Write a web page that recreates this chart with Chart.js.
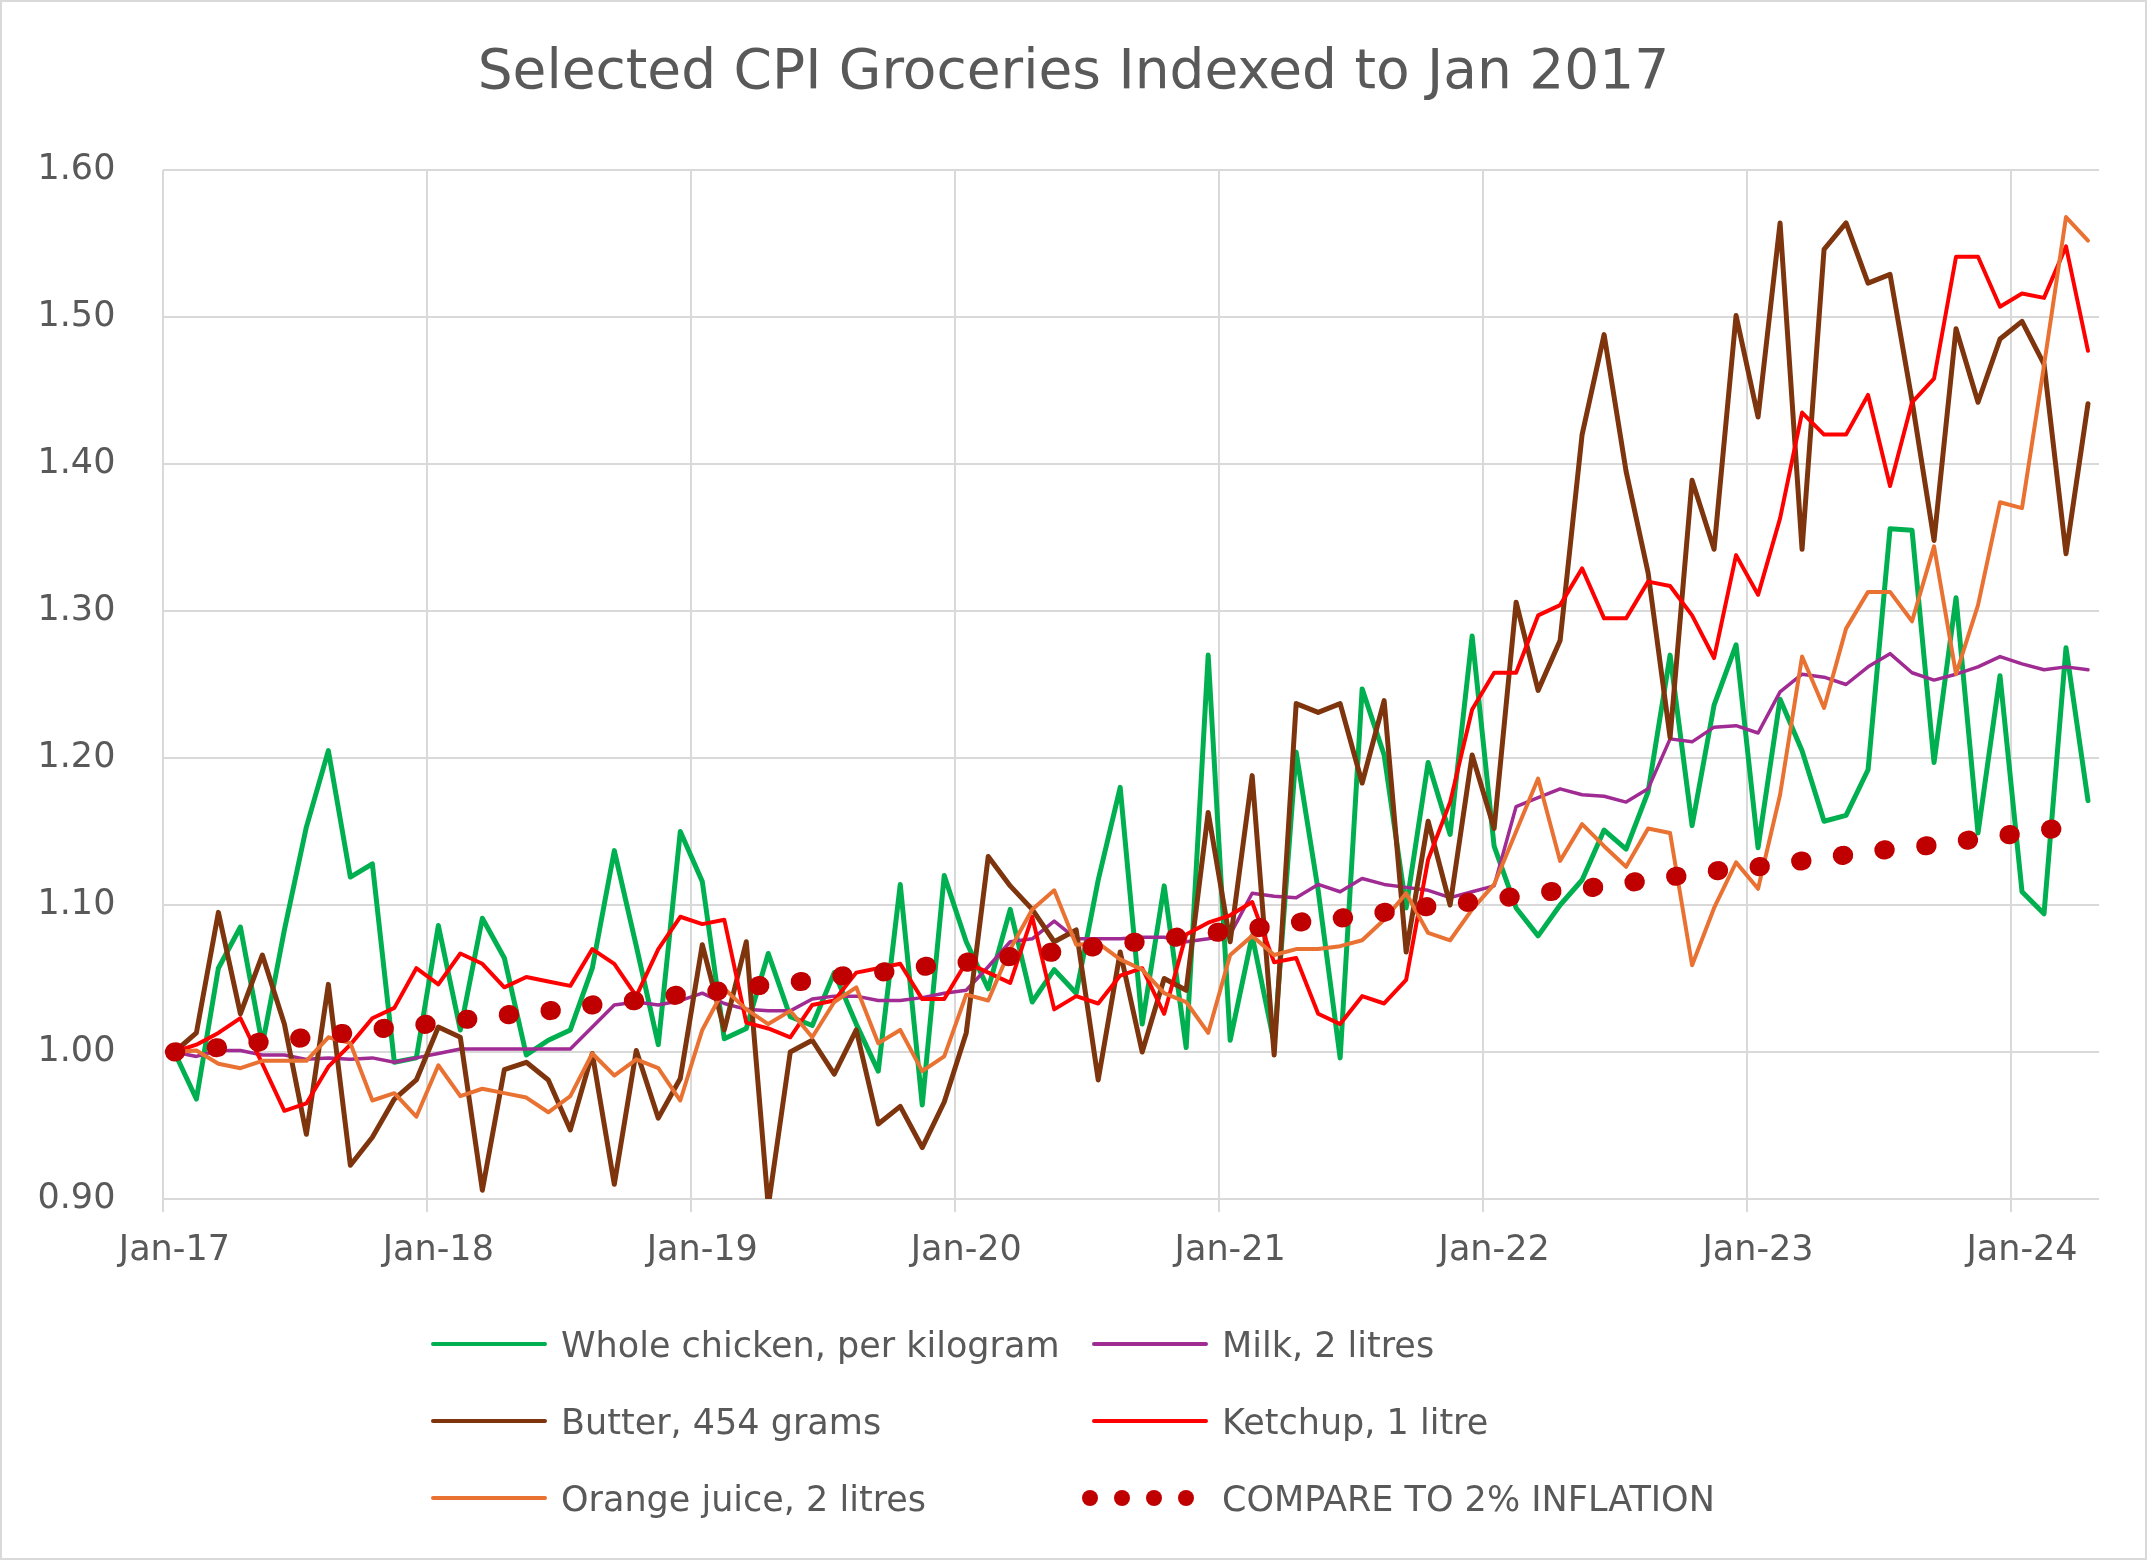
<!DOCTYPE html>
<html><head><meta charset="utf-8">
<script src="https://cdn.jsdelivr.net/npm/chart.js@4.4.1/dist/chart.umd.min.js"></script>
<style>
html,body{margin:0;padding:0;background:#fff;}
#wrap{position:relative;width:2147px;height:1560px;overflow:hidden;background:#fff;}
#c{position:absolute;left:0;top:0;}
#frame{position:absolute;left:0;top:0;width:2147px;height:1560px;box-sizing:border-box;border:2px solid #D9D9D9;pointer-events:none;}
.lg{position:absolute;font-family:'DejaVu Sans';font-size:35px;line-height:42px;color:#595959;white-space:nowrap;}
.ln{position:absolute;border-radius:2px;}
.dot{position:absolute;border-radius:50%;}
</style></head><body>
<div id="wrap"><canvas id="c" width="2147" height="1560"></canvas><div id="legend"></div><div id="frame"></div></div>
<script>
const months = [
 'Jan-17','Feb-17','Mar-17','Apr-17','May-17','Jun-17','Jul-17','Aug-17','Sep-17','Oct-17','Nov-17','Dec-17',
 'Jan-18','Feb-18','Mar-18','Apr-18','May-18','Jun-18','Jul-18','Aug-18','Sep-18','Oct-18','Nov-18','Dec-18',
 'Jan-19','Feb-19','Mar-19','Apr-19','May-19','Jun-19','Jul-19','Aug-19','Sep-19','Oct-19','Nov-19','Dec-19',
 'Jan-20','Feb-20','Mar-20','Apr-20','May-20','Jun-20','Jul-20','Aug-20','Sep-20','Oct-20','Nov-20','Dec-20',
 'Jan-21','Feb-21','Mar-21','Apr-21','May-21','Jun-21','Jul-21','Aug-21','Sep-21','Oct-21','Nov-21','Dec-21',
 'Jan-22','Feb-22','Mar-22','Apr-22','May-22','Jun-22','Jul-22','Aug-22','Sep-22','Oct-22','Nov-22','Dec-22',
 'Jan-23','Feb-23','Mar-23','Apr-23','May-23','Jun-23','Jul-23','Aug-23','Sep-23','Oct-23','Nov-23','Dec-23',
 'Jan-24','Feb-24','Mar-24','Apr-24'];
const tickLabels = ['Jan-17','Jan-18','Jan-19','Jan-20','Jan-21','Jan-22','Jan-23','Jan-24'];
const yTicks = [0.90,1.00,1.10,1.20,1.30,1.40,1.50,1.60];

const chicken = [
 1.000,0.968,1.057,1.085,1.005,1.083,1.153,1.205,1.119,1.128,0.993,0.996,
 1.086,1.015,1.091,1.064,0.998,1.008,1.015,1.057,1.137,1.072,1.005,1.150,
 1.116,1.009,1.016,1.067,1.024,1.018,1.054,1.019,0.987,1.114,0.964,1.120,
 1.075,1.043,1.097,1.034,1.056,1.040,1.117,1.180,1.019,1.113,1.003,1.270,
 1.008,1.079,1.006,1.204,1.110,0.996,1.247,1.202,1.098,1.197,1.148,1.283,
 1.140,1.098,1.079,1.100,1.117,1.151,1.138,1.177,1.270,1.154,1.236,1.277,
 1.139,1.240,1.205,1.157,1.161,1.192,1.356,1.355,1.197,1.309,1.149,1.256,
 1.109,1.094,1.275,1.171];
const milk = [
 1.000,0.997,1.001,1.001,0.998,0.998,0.995,0.996,0.995,0.996,0.993,0.996,
 0.999,1.002,1.002,1.002,1.002,1.002,1.002,1.017,1.032,1.034,1.032,1.035,
 1.040,1.033,1.029,1.028,1.028,1.036,1.038,1.038,1.035,1.035,1.037,1.040,
 1.042,1.058,1.075,1.077,1.089,1.077,1.077,1.077,1.078,1.078,1.075,1.077,
 1.080,1.108,1.106,1.105,1.114,1.109,1.118,1.114,1.112,1.110,1.105,1.109,
 1.113,1.167,1.173,1.179,1.175,1.174,1.170,1.179,1.213,1.211,1.221,1.222,
 1.217,1.245,1.257,1.255,1.250,1.262,1.271,1.258,1.253,1.257,1.262,1.269,
 1.264,1.260,1.262,1.260];
const butter = [
 1.000,1.013,1.095,1.026,1.066,1.019,0.944,1.046,0.923,0.942,0.968,0.981,
 1.017,1.010,0.906,0.988,0.993,0.981,0.947,0.999,0.910,1.001,0.955,0.982,
 1.073,1.015,1.075,0.895,1.000,1.008,0.985,1.015,0.951,0.963,0.935,0.966,
 1.013,1.133,1.113,1.097,1.075,1.083,0.981,1.068,1.000,1.050,1.042,1.163,
 1.075,1.188,0.998,1.237,1.231,1.237,1.183,1.239,1.068,1.157,1.100,1.202,
 1.152,1.306,1.246,1.280,1.420,1.488,1.395,1.326,1.214,1.389,1.342,1.501,
 1.432,1.564,1.342,1.546,1.564,1.523,1.529,1.443,1.348,1.492,1.442,1.485,
 1.497,1.468,1.339,1.441];
const ketchup = [
 1.000,1.005,1.013,1.023,0.992,0.960,0.965,0.990,1.005,1.023,1.030,1.057,
 1.046,1.067,1.060,1.044,1.051,1.048,1.045,1.070,1.060,1.038,1.070,1.092,
 1.087,1.090,1.020,1.016,1.010,1.032,1.035,1.054,1.057,1.060,1.036,1.036,
 1.061,1.054,1.047,1.092,1.029,1.038,1.033,1.052,1.057,1.026,1.080,1.088,
 1.093,1.102,1.061,1.064,1.026,1.019,1.038,1.033,1.049,1.131,1.170,1.233,
 1.258,1.258,1.297,1.304,1.329,1.295,1.295,1.320,1.317,1.297,1.268,1.338,
 1.311,1.363,1.435,1.420,1.420,1.447,1.385,1.442,1.458,1.541,1.541,1.507,
 1.516,1.513,1.548,1.477];
const orangeJuice = [
 1.000,1.001,0.992,0.989,0.994,0.994,0.994,1.010,1.006,0.967,0.972,0.956,
 0.991,0.970,0.975,0.972,0.969,0.959,0.970,0.999,0.984,0.995,0.989,0.967,
 1.015,1.043,1.029,1.019,1.028,1.010,1.034,1.044,1.006,1.015,0.987,0.997,
 1.039,1.035,1.070,1.097,1.110,1.073,1.074,1.063,1.056,1.040,1.034,1.013,
 1.066,1.079,1.066,1.070,1.070,1.072,1.076,1.090,1.108,1.081,1.076,1.097,
 1.114,1.150,1.186,1.130,1.155,1.140,1.126,1.152,1.149,1.059,1.098,1.129,
 1.111,1.175,1.269,1.234,1.288,1.313,1.313,1.293,1.344,1.257,1.304,1.374,
 1.370,1.467,1.568,1.552];
const inflation2pct = [
 1.000,1.002,1.003,1.005,1.007,1.008,1.010,1.012,1.013,1.015,1.017,1.018,
 1.020,1.022,1.023,1.025,1.027,1.028,1.030,1.032,1.034,1.035,1.037,1.039,
 1.040,1.042,1.044,1.046,1.047,1.049,1.051,1.053,1.054,1.056,1.058,1.060,
 1.061,1.063,1.065,1.067,1.068,1.070,1.072,1.074,1.075,1.077,1.079,1.081,
 1.082,1.084,1.086,1.088,1.090,1.091,1.093,1.095,1.097,1.099,1.101,1.102,
 1.104,1.106,1.108,1.110,1.111,1.113,1.115,1.117,1.119,1.121,1.123,1.125,
 1.126,1.128,1.130,1.132,1.134,1.136,1.138,1.139,1.141,1.143,1.145,1.147,
 1.149,1.151,1.153,1.154];

const seriesNames = ['Whole chicken, per kilogram','Milk, 2 litres','Butter, 454 grams','Ketchup, 1 litre','Orange juice, 2 litres','COMPARE TO 2% INFLATION'];
const seriesData = [chicken, milk, butter, ketchup, orangeJuice, inflation2pct];
const seriesColors = ['#00B050','#A02B93','#7E350E','#FF0000','#E97132','#C00000'];
const seriesWidths = [5, 3.5, 5, 4, 4, 19];

const FONT = 'DejaVu Sans';
const TEXT = '#595959';
const GRID = '#D9D9D9';

const datasets = seriesData.map((d, i) => {
  const ds = {
    label: seriesNames[i], data: d,
    borderColor: seriesColors[i], backgroundColor: seriesColors[i],
    borderWidth: seriesWidths[i], pointRadius: 0, pointHoverRadius: 0,
    tension: 0, fill: false, order: 5 - i,
    borderJoinStyle: 'round', borderCapStyle: 'round'
  };
  if (i === 5) { ds.borderDash = [1.5, 40.5]; ds.borderCapStyle = 'round'; }
  return ds;
});

new Chart(document.getElementById('c'), {
  type: 'line',
  data: { labels: months, datasets },
  options: {
    responsive: false, animation: false, devicePixelRatio: 1,
    layout: { padding: { left: 0, right: 0, top: 0, bottom: 0 } },
    plugins: {
      legend: { display: false },
      tooltip: { enabled: false },
      title: {
        display: true, text: 'Selected CPI Groceries Indexed to Jan 2017', color: TEXT,
        font: { family: FONT, size: 55, weight: 'normal', lineHeight: 1.2 },
        padding: { top: 41, bottom: 63 }
      }
    },
    scales: {
      x: {
        type: 'category', offset: true,
        afterFit: s => { s.height = 361; },
        grid: {
          offset: true, lineWidth: 2, tickLength: 13, drawTicks: true,
          color: ctx => (ctx.index % 12 === 0 && ctx.index < months.length) ? GRID : 'rgba(0,0,0,0)'
        },
        border: { display: false },
        ticks: {
          autoSkip: false, maxRotation: 0, minRotation: 0, padding: 18, color: TEXT,
          font: { family: FONT, size: 35 },
          callback: function (v, i) { const l = months[i]; return tickLabels.includes(l) ? l : ''; }
        }
      },
      y: {
        position: 'left', min: yTicks[0], max: yTicks[yTicks.length - 1],
        afterFit: s => { s.width = 163.4; },
        afterBuildTicks: s => { s.ticks = yTicks.map(v => ({ value: v })); },
        grid: { color: GRID, lineWidth: 2, drawTicks: false },
        border: { display: false },
        ticks: { padding: 48, color: TEXT, font: { family: FONT, size: 35 }, callback: v => Number(v).toFixed(2) }
      },
      yr: {
        position: 'right', display: true, min: 0, max: 1,
        afterFit: s => { s.width = 48; },
        grid: { display: false, drawTicks: false }, border: { display: false },
        ticks: { display: false }
      }
    }
  }
});

// HTML legend (2 columns x 3 rows)
const legendSlots = [[431,1344],[1092,1344],[431,1421],[1092,1421],[431,1498],[1092,1498]];
const lg = document.getElementById('legend');
seriesNames.forEach((name, i) => {
  const [x, y] = legendSlots[i];
  if (i === 5) {
    [0, 32, 64, 96].forEach(dx => {
      const d = document.createElement('div'); d.className = 'dot';
      d.style.left = (x - 10 + dx) + 'px'; d.style.top = (y - 8) + 'px';
      d.style.width = '16px'; d.style.height = '16px'; d.style.background = seriesColors[i];
      lg.appendChild(d);
    });
  } else {
    const l = document.createElement('div'); l.className = 'ln';
    l.style.left = x + 'px'; l.style.top = (y - 2) + 'px';
    l.style.width = '116px'; l.style.height = '4px'; l.style.background = seriesColors[i];
    lg.appendChild(l);
  }
  const t = document.createElement('div'); t.className = 'lg';
  t.textContent = name; t.style.left = (x + 130) + 'px'; t.style.top = (y - 20) + 'px';
  lg.appendChild(t);
});
</script>
</body></html>
